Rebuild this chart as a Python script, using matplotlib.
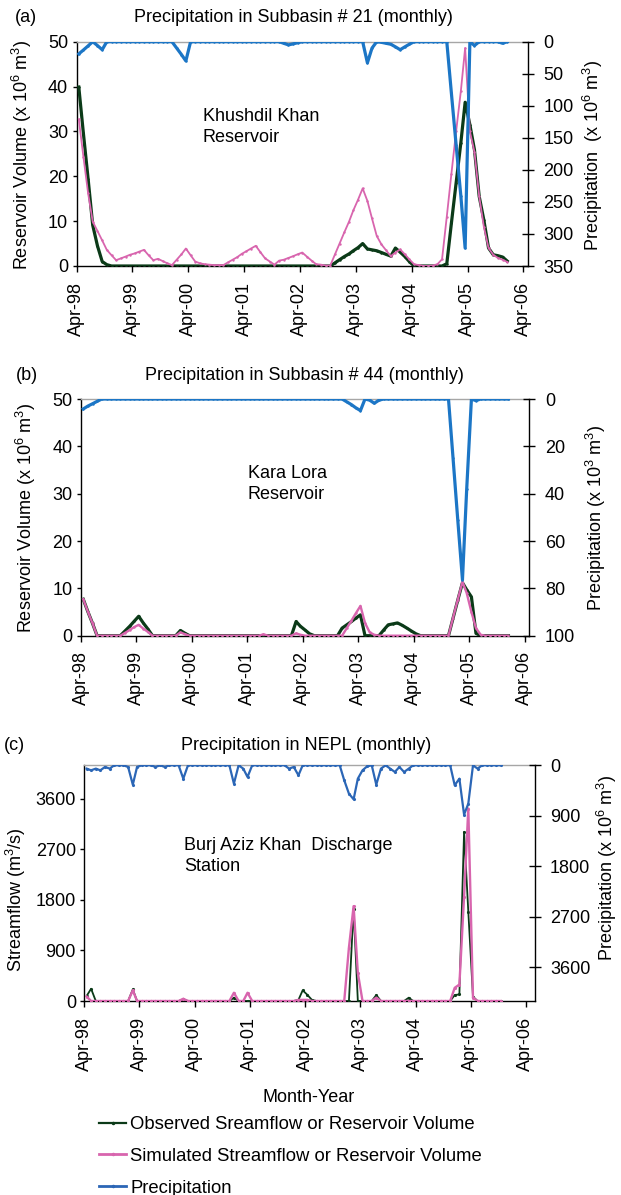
import numpy as np
import pandas as pd
import matplotlib
matplotlib.use('Agg')
import matplotlib.pyplot as plt
import matplotlib.dates as mdates
from matplotlib.lines import Line2D

plt.rcParams['font.family'] = ['Liberation Sans', 'DejaVu Sans']
plt.rcParams['mathtext.fontset'] = 'custom'
plt.rcParams['mathtext.rm'] = 'Liberation Sans'
plt.rcParams['mathtext.it'] = 'Liberation Sans:italic'
plt.rcParams['mathtext.bf'] = 'Liberation Sans:bold'

# ---------------- data (monthly, Apr-98 onward) ----------------
dates_ab = pd.date_range('1998-04-01', periods=93, freq='MS') + pd.Timedelta(days=15)
dates_c = pd.date_range('1998-04-01', periods=91, freq='MS') + pd.Timedelta(days=15)

# (a) Khushdil Khan Reservoir (x 10^6 m3) and precipitation subbasin 21
a_obs = [39.9, 29.6, 19.4, 9.1, 4.5, 1.0, 0.3, 0, 0, 0, 0, 0,
         0, 0, 0, 0, 0, 0, 0, 0, 0, 0, 0, 0,
         0, 0, 0, 0, 0, 0, 0, 0, 0, 0, 0, 0,
         0, 0, 0, 0, 0, 0, 0, 0, 0, 0, 0, 0,
         0, 0, 0, 0, 0, 0, 0, 0.7, 1.4, 2.1, 2.7, 3.4,
         4.1, 5.0, 3.8, 3.6, 3.4, 3.0, 2.6, 2.2, 4.0, 3.1, 2.1, 1.0,
         0, 0, 0, 0, 0, 0, 0, 0.5, 9.5, 18.5, 27.5, 36.5,
         31.5, 25.9, 15.5, 10.3, 4.0, 2.5, 2.3, 2.0, 1.1]
a_sim = [32.7, 24.4, 16.2, 9.9, 7.8, 5.7, 3.6, 2.4, 1.3, 1.7, 2.1, 2.5,
         2.8, 3.2, 3.6, 2.4, 1.3, 1.6, 1.1, 0.6, 0.2, 1.4, 2.6, 3.9,
         2.4, 1.0, 0.6, 0.4, 0.3, 0.2, 0.2, 0.2, 0.8, 1.4, 2.0, 2.7,
         3.3, 3.9, 4.5, 3.1, 1.7, 1.0, 0.3, 1.2, 1.4, 1.8, 2.2, 2.6,
         3.0, 2.1, 1.2, 0.4, 0.3, 0.1, 0.1, 2.6, 5.0, 7.5, 9.9, 12.4,
         14.8, 17.3, 14.5, 10.6, 6.7, 4.8, 3.5, 2.2, 3.0, 3.7, 2.6, 1.5,
         0.4, 0.2, 0, 0, 0.1, 0.4, 1.5, 11.0, 20.5, 30.0, 39.0, 48.6,
         30.0, 25.4, 15.5, 8.8, 4.0, 2.5, 1.8, 1.4, 0.9]
a_prec = [19, 13, 6.5, 0, 6, 12.5, 0, 0, 0, 0, 0, 0,
          0, 0, 0, 0, 0, 0, 0, 0, 0, 10, 20, 30,
          0, 0, 0, 0, 0, 0, 0, 0, 0, 0, 0, 0,
          0, 0, 0, 0, 0, 0, 0, 0, 2.5, 5, 3.3, 1.7,
          0, 0, 0, 0, 0, 0, 0, 0, 0, 0, 0, 0,
          0, 0, 33, 10, 0, 1, 2.5, 4, 8, 12.5, 8, 4,
          0, 0, 0, 0, 0, 0, 0, 0, 80, 161, 241, 322,
          0, 6, 0, 0, 0, 0, 0, 2.5, 0]

# (b) Kara Lora Reservoir (x 10^6 m3) and precipitation subbasin 44 (x 10^3 m3)
b_obs = [7.7, 5.1, 2.6, 0, 0, 0, 0, 0, 0, 1.0, 2.0, 3.0,
         4.1, 2.7, 1.4, 0, 0, 0, 0, 0, 0, 1.1, 0.5, 0,
         0, 0, 0, 0, 0, 0, 0, 0, 0, 0, 0, 0,
         0, 0, 0, 0, 0, 0, 0, 0, 0, 0, 3.0, 2.0,
         1.2, 0.4, 0, 0, 0, 0, 0, 0, 1.6, 2.3, 3.0, 3.7,
         4.4, 0, 0, 0, 0, 1.2, 2.3, 2.5, 2.7, 2.2, 1.6, 1.0,
         0.4, 0, 0, 0, 0, 0, 0, 0, 3.7, 7.5, 11.2, 9.7,
         8.2, 0.5, 0, 0, 0, 0, 0, 0, 0]
b_sim = [7.7, 5.1, 2.6, 0, 0, 0, 0, 0, 0, 0.6, 1.2, 1.8,
         2.3, 1.5, 0.8, 0, 0, 0, 0, 0, 0, 0.7, 0.3, 0,
         0, 0, 0, 0, 0, 0, 0, 0, 0, 0, 0, 0,
         0, 0, 0, 0.3, 0, 0, 0, 0, 0, 0, 0.5, 0.2,
         0, 0, 0, 0, 0, 0, 0, 0, 0, 1.6, 3.2, 4.7,
         6.3, 2.7, 0.7, 0.2, 0, 0, 0, 0, 0, 0, 0, 0,
         0, 0, 0, 0, 0, 0, 0, 0, 3.8, 7.6, 11.4, 9.0,
         5.0, 1.6, 0.2, 0, 0, 0, 0, 0, 0]
b_prec = [4.2, 3.0, 2.0, 1.0, 0, 0, 0, 0, 0, 0, 0, 0,
          0, 0, 0, 0, 0, 0, 0, 0, 0, 0, 0, 0,
          0, 0, 0, 0, 0, 0, 0, 0, 0, 0, 0, 0,
          0, 0, 0, 0, 0, 0, 0, 0, 0, 0, 0, 0,
          0, 0, 0, 0, 0, 0, 0, 0, 0, 1.2, 2.4, 3.7,
          4.9, 0, 0.5, 1.8, 0.5, 0, 0, 0, 0, 0, 0, 0,
          0, 0, 0, 0, 0, 0, 0, 0, 25, 51, 76.4, 38,
          0, 0.7, 0, 0, 0, 0, 0, 0, 0]

# (c) Burj Aziz Khan discharge station (m3/s) and precipitation NEPL (x 10^6 m3)
c_obs = [88, 218, 0, 0, 0, 0, 0, 0, 0, 0, 206, 0,
         0, 0, 0, 0, 0, 0, 0, 0, 0, 30, 0, 0,
         0, 0, 0, 0, 0, 0, 0, 0, 59, 0, 0, 0,
         0, 0, 0, 0, 0, 0, 0, 0, 0, 0, 20, 190,
         110, 20, 0, 0, 0, 0, 0, 0, 0, 0, 1647, 0,
         0, 0, 0, 106, 0, 0, 0, 0, 0, 0, 59, 0,
         0, 0, 0, 0, 0, 0, 0, 0, 106, 118, 3012, 1591,
         77, 0, 0, 0, 0, 0, 0]
c_sim = [80, 0, 0, 0, 0, 0, 0, 0, 0, 0, 190, 0,
         0, 0, 0, 0, 0, 0, 0, 0, 0, 40, 0, 0,
         0, 0, 0, 0, 0, 0, 0, 0, 147, 0, 0, 147,
         0, 0, 0, 0, 0, 0, 0, 0, 0, 0, 20, 20,
         20, 0, 0, 0, 0, 0, 0, 0, 0, 950, 1690, 500,
         0, 0, 0, 60, 0, 0, 0, 0, 0, 0, 0, 0,
         0, 0, 0, 0, 0, 0, 0, 0, 235, 294, 1860, 3430,
         59, 0, 0, 0, 0, 0, 0]
c_prec = [59, 89, 59, 89, 30, 59, 0, 0, 0, 30, 345, 30,
          0, 0, 0, 30, 0, 30, 0, 0, 0, 238, 0, 0,
          0, 0, 0, 0, 0, 0, 0, 0, 327, 0, 60, 208,
          0, 0, 0, 0, 0, 0, 0, 0, 59, 30, 178, 0,
          0, 0, 0, 0, 0, 0, 0, 0, 267, 505, 606, 238,
          89, 20, 0, 345, 59, 0, 59, 119, 30, 119, 59, 0,
          0, 0, 0, 0, 0, 0, 0, 0, 356, 238, 879, 683,
          0, 59, 0, 0, 0, 0, 0]

titles = ['Precipitation in Subbasin # 21 (monthly)',
          'Precipitation in Subbasin # 44 (monthly)',
          'Precipitation in NEPL (monthly)']
panel_tags = ['(a)', '(b)', '(c)']
site_names = ['Khushdil Khan\nReservoir', 'Kara Lora\nReservoir',
              'Burj Aziz Khan  Discharge\nStation']
left_labels = ['Reservoir Volume (x 10$^{6}$ m$^{3}$)',
               'Reservoir Volume (x 10$^{6}$ m$^{3}$)',
               'Streamflow (m$^{3}$/s)']
right_labels = ['Precipitation  (x 10$^{6}$ m$^{3}$)',
                'Precipitation (x 10$^{3}$ m$^{3}$)',
                'Precipitation (x 10$^{6}$ m$^{3}$)']
legend_labels = ['Observed Sreamflow or Reservoir Volume',
                 'Simulated Streamflow or Reservoir Volume',
                 'Precipitation']

# ---------------- figure ----------------
W, H = 621, 1195
fig = plt.figure(figsize=(W / 100, H / 100), dpi=100)
FS = 13

GREEN = '#0b3a18'
PINK = '#d865ae'
BLUE = '#1c76c6'
BLUE_C = '#2b66b6'


def px_axes(l, t, r, b):
    return fig.add_axes([l / W, 1 - b / H, (r - l) / W, (b - t) / H])


def ftext(x, y, s, **kw):
    return fig.text(x / W, 1 - y / H, s, fontsize=FS, **kw)


panels = [
    dict(box=(76.5, 41.7, 528, 266), xmax='2006-05-01', dates=dates_ab,
         obs=a_obs, sim=a_sim, prec=a_prec, ylim=50, yticks=[0, 10, 20, 30, 40, 50],
         plim=350, pticks=[0, 50, 100, 150, 200, 250, 300, 350],
         lw=(2.3, 1.3, 2.3), ms=1.5, blue=BLUE,
         tag=(14.7, 17), title=(293, 17), site=(203, 127), ll=(22, 155), rl=(593, 155)),
    dict(box=(81, 399, 529.4, 635.7), xmax='2006-05-03', dates=dates_ab,
         obs=b_obs, sim=b_sim, prec=b_prec, ylim=50, yticks=[0, 10, 20, 30, 40, 50],
         plim=100, pticks=[0, 20, 40, 60, 80, 100],
         lw=(2.3, 1.7, 2.3), ms=1.5, blue=BLUE,
         tag=(15.8, 376), title=(304, 376), site=(247.5, 484), ll=(26, 518), rl=(596, 518)),
    dict(box=(84.3, 765.3, 534.5, 1001), xmax='2006-05-28', dates=dates_c,
         obs=c_obs, sim=c_sim, prec=c_prec, ylim=4200, yticks=[0, 900, 1800, 2700, 3600],
         plim=4200, pticks=[0, 900, 1800, 2700, 3600],
         lw=(1.3, 1.7, 1.6), ms=2.5, blue=BLUE_C,
         tag=(4, 745), title=(306, 745), site=(184, 856), ll=(16, 900), rl=(607, 868)),
]

for i, p in enumerate(panels):
    ax = px_axes(*p['box'])
    lo, ls, lb = p['lw']
    ms = p['ms']
    ax.plot(p['dates'], p['obs'], color=GREEN, lw=lo, marker='.', ms=ms, zorder=3)
    ax.plot(p['dates'], p['sim'], color=PINK, lw=ls, marker='.', ms=ms, zorder=4)
    ax.set_ylim(0, p['ylim'])
    ax.set_yticks(p['yticks'])
    ax.set_xlim(pd.Timestamp('1998-04-01'), pd.Timestamp(p['xmax']))
    ax.xaxis.set_major_locator(mdates.MonthLocator(bymonth=4, bymonthday=1))
    ax.xaxis.set_major_formatter(mdates.DateFormatter('%b-%y'))
    ax.tick_params(axis='x', direction='out', length=4.2, width=1, pad=7,
                   labelsize=FS, labelrotation=90)
    ax.tick_params(axis='y', direction='out', length=3.2, width=1, pad=2.8, labelsize=FS)
    ax.spines['top'].set_color('#a6a6a6')
    ax.spines['top'].set_linewidth(1.0)
    ax.spines['right'].set_visible(False)
    for s in ('left', 'bottom'):
        ax.spines[s].set_linewidth(1.0)

    ax2 = ax.twinx()
    ax2.plot(p['dates'], p['prec'], color=p['blue'], lw=lb, marker='.', ms=ms, zorder=3)
    ax2.set_ylim(p['plim'], 0)
    ax2.set_yticks(p['pticks'])
    ax2.tick_params(axis='y', direction='inout', length=8.6, width=1, pad=6.9, labelsize=FS)
    for s in ('left', 'bottom', 'top'):
        ax2.spines[s].set_visible(False)
    ax2.spines['right'].set_linewidth(1.0)

    ftext(*p['tag'], panel_tags[i], ha='left', va='center')
    ftext(*p['title'], titles[i], ha='center', va='center')
    ftext(*p['site'], site_names[i], ha='left', va='center', linespacing=1.25)
    ftext(*p['ll'], left_labels[i], ha='center', va='center', rotation=90)
    ftext(*p['rl'], right_labels[i], ha='center', va='center', rotation=90)

ftext(309, 1097, 'Month-Year', ha='center', va='center')

handles = [Line2D([], [], color=GREEN, lw=1.6, marker='.', ms=3),
           Line2D([], [], color=PINK, lw=2.0, marker='.', ms=3),
           Line2D([], [], color=BLUE_C, lw=2.0, marker='.', ms=3)]
fig.legend(handles, legend_labels, loc='upper left',
           bbox_to_anchor=(99 / W, 1 - 1116 / H), frameon=False, fontsize=13.3,
           handlelength=1.48, handletextpad=0.22, labelspacing=0.8, borderpad=0,
           borderaxespad=0, numpoints=1)

fig.savefig('out.png', dpi=100)
